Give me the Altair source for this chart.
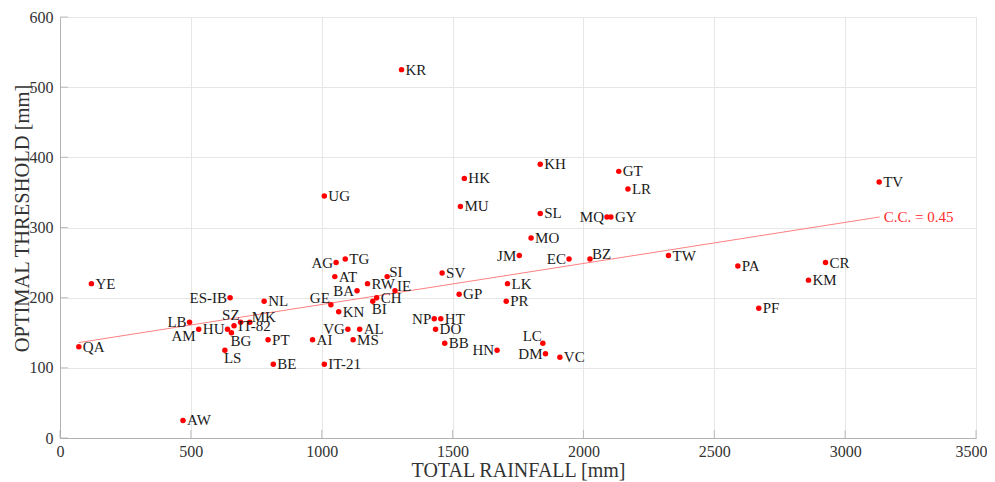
import altair as alt
import pandas as pd

# ---- data ----
labels = ["KR", "UG", "HK", "MU", "KH", "GT", "LR", "SL", "MQ", "GY", "TV", "MO",
          "JM", "EC", "BZ", "TW", "PA", "CR", "KM", "PF", "YE", "QA", "AW", "ES-IB",
          "NL", "LB", "AM", "HU", "SZ", "MK", "IT-82", "BG", "PT", "LS", "BE", "AI",
          "AG", "TG", "AT", "SI", "RW", "BA", "IE", "CH", "BI", "GE", "KN", "VG",
          "AL", "MS", "IT-21", "SV", "GP", "LK", "PR", "NP", "HT", "DO", "BB", "HN",
          "LC", "DM", "VC"]
rainfall = [1305, 1010, 1545, 1530, 1835, 2135, 2170, 1835, 2090, 2105, 3130, 1800,
            1755, 1945, 2025, 2325, 2590, 2925, 2860, 2670, 120, 72, 470, 650,
            780, 495, 530, 640, 690, 725, 665, 655, 795, 630, 815, 965,
            1055, 1090, 1050, 1250, 1175, 1135, 1280, 1210, 1195, 1035, 1065, 1100,
            1145, 1120, 1010, 1460, 1525, 1710, 1705, 1430, 1455, 1435, 1470, 1670,
            1845, 1855, 1910]
threshold = [525, 345, 370, 330, 390, 380, 355, 320, 315, 315, 365, 285,
             260, 255, 255, 260, 245, 250, 225, 185, 220, 130, 25, 200,
             195, 165, 155, 155, 165, 165, 160, 150, 140, 125, 105, 140,
             250, 255, 230, 230, 220, 210, 210, 200, 195, 190, 180, 155,
             155, 140, 105, 235, 205, 220, 195, 170, 170, 155, 135, 125,
             135, 120, 115]

fit_rainfall = [72, 3132]
fit_threshold = [136, 315]
cc_text = "C.C. = 0.45"

x_ticks = [0, 500, 1000, 1500, 2000, 2500, 3000, 3500]
y_ticks = [0, 100, 200, 300, 400, 500, 600]

# ---- label placement (style) ----
placement = {
    "AG": "L", "JM": "L", "EC": "L", "MQ": "L", "ES-IB": "L", "LB": "L", "NP": "L",
    "HN": "L", "DM": "L", "VG": "L", "BA": "L", "HU": "L",
    "SZ": "AL", "GE": "AL", "LC": "AL",
    "AM": "BL",
    "BG": "BR", "LS": "BR", "BI": "BR",
    "MK": "AR", "IE": "AR", "SI": "AR", "BZ": "AR",
}

df = pd.DataFrame({"label": labels, "rainfall": rainfall, "threshold": threshold})
df["pos"] = [placement.get(l, "R") for l in labels]
fit_df = pd.DataFrame({"rainfall": fit_rainfall, "threshold": fit_threshold})
cc_df = pd.DataFrame({"rainfall": [fit_rainfall[-1]], "threshold": [fit_threshold[-1]], "t": [cc_text]})
xt_df = pd.DataFrame({"rainfall": x_ticks})
yt_df = pd.DataFrame({"threshold": y_ticks})

FONT = "'Liberation Serif', 'DejaVu Serif', 'Times New Roman', serif"
W, H = 916, 421

x_enc = alt.X("rainfall:Q",
              scale=alt.Scale(domain=[0, 3500], nice=False, zero=False),
              axis=alt.Axis(title="TOTAL RAINFALL [mm]", values=x_ticks, format="d",
                            grid=True, gridColor="#e6e6e6", ticks=False,
                            domainColor="#b3b3b3", labelFont=FONT, labelFontSize=16,
                            labelColor="#333333", labelBaseline="middle", labelPadding=13,
                            labelFlush=False,
                            labelOffset=alt.condition("datum.value == 3500", alt.value(-5), alt.value(0)),
                            titleFont=FONT, titleFontSize=20, titleFontWeight="normal",
                            titleColor="#333333", titleBaseline="alphabetic", titleY=38))
y_enc = alt.Y("threshold:Q",
              scale=alt.Scale(domain=[0, 600], nice=False, zero=False),
              axis=alt.Axis(title="OPTIMAL THRESHOLD [mm]", values=y_ticks, format="d",
                            grid=True, gridColor="#e6e6e6", ticks=False,
                            domainColor="#b3b3b3", labelFont=FONT, labelFontSize=16,
                            labelColor="#333333", labelBaseline="middle", labelPadding=7,
                            labelFlush=False,
                            titleFont=FONT, titleFontSize=20.5, titleFontWeight="normal",
                            titleColor="#333333", titleX=-38, titleY=201,
                            titleAlign="center", titleBaseline="middle"))

base = alt.Chart(df)

points = base.mark_circle(color="#ff0000", size=30, opacity=1).encode(x=x_enc, y=y_enc)

offsets = {
    "R": dict(align="left", dx=4, dy=0),
    "L": dict(align="right", dx=-3, dy=0),
    "AL": dict(align="right", dx=-1, dy=-7),
    "AR": dict(align="left", dx=2, dy=-5),
    "BL": dict(align="right", dx=-3, dy=7),
    "BR": dict(align="left", dx=-1, dy=8),
}

text_layers = []
for key, o in offsets.items():
    text_layers.append(
        base.transform_filter(alt.datum.pos == key).mark_text(
            font=FONT, fontSize=15, color="#1a1a1a", baseline="middle", **o
        ).encode(x="rainfall:Q", y="threshold:Q", text="label:N")
    )

fit_line = alt.Chart(fit_df).mark_line(color="#ff8080", strokeWidth=1).encode(
    x="rainfall:Q", y="threshold:Q")

cc_label = alt.Chart(cc_df).mark_text(
    font=FONT, fontSize=15, color="#ff2a2a", align="left", baseline="middle", dx=4
).encode(x="rainfall:Q", y="threshold:Q", text="t:N")

xticks_in = alt.Chart(xt_df).mark_tick(color="#a6a6a6", thickness=1, size=8).encode(
    x="rainfall:Q", y=alt.value(H - 4))
yticks_in = alt.Chart(yt_df).mark_tick(color="#a6a6a6", thickness=1, size=8,
                                        orient="horizontal").encode(
    y="threshold:Q", x=alt.value(4))

chart = alt.layer(fit_line, xticks_in, yticks_in, points, *text_layers, cc_label).properties(
    width=W, height=H,
    autosize=alt.AutoSizeParams(type="none"),
    padding={"left": 52, "top": 9, "right": 11, "bottom": 44},
).configure_view(stroke=None).configure(background="white")

chart.save("out.html", embed_options={"renderer": "svg", "actions": False})
